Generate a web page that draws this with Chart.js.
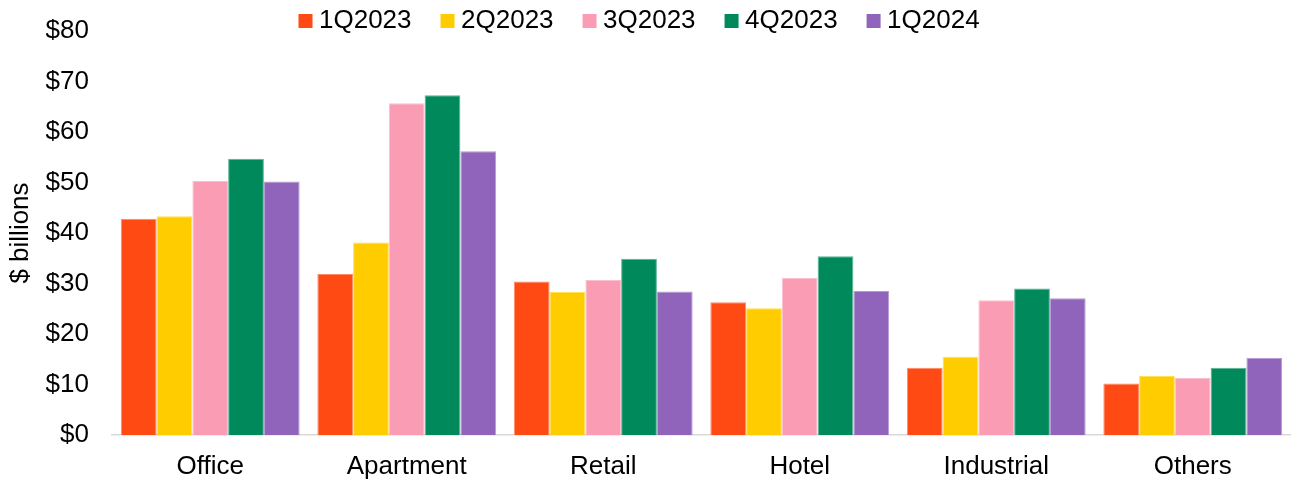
<!DOCTYPE html>
<html>
<head>
<meta charset="utf-8">
<script src="https://cdn.jsdelivr.net/npm/chart.js@4/dist/chart.umd.min.js"></script>
<style>
  html, body { margin: 0; padding: 0; background: #ffffff; }
  #wrap { width: 1291px; height: 481px; position: relative; }
</style>
</head>
<body>
<div id="wrap"><canvas id="chart"></canvas></div>
<script>
// Property sector categories
const categories = ['Office', 'Apartment', 'Retail', 'Hotel', 'Industrial', 'Others'];

// Quarterly values, $ billions
const q1_2023 = [42.8, 31.9, 30.4, 26.3, 13.3, 10.2];
const q2_2023 = [43.3, 38.1, 28.3, 25.1, 15.5, 11.7];
const q3_2023 = [50.3, 65.7, 30.7, 31.1, 26.7, 11.3];
const q4_2023 = [54.7, 67.3, 34.9, 35.4, 29.0, 13.3];
const q1_2024 = [50.2, 56.2, 28.4, 28.5, 27.1, 15.3];

const seriesNames = ['1Q2023', '2Q2023', '3Q2023', '4Q2023', '1Q2024'];
const seriesValues = [q1_2023, q2_2023, q3_2023, q4_2023, q1_2024];
const seriesColors = ['#FF4A14', '#FFCC00', '#FB9CB5', '#008A5C', '#9064BA'];
const seriesEdges = ['#FF8966', '#FFDE59', '#FCBFCF', '#59B395', '#B79AD2'];

// Y axis ticks
const yMin = 0;
const yMax = 80;
const yStep = 10;

const FONT = "'Liberation Sans', Arial, sans-serif";
const FONT_SIZE = 26;
const LEGEND_GAP = 35.5;

// Place the legend row: first marker near x=305, row centred at y=21
const legendPlace = {
  id: 'legendPlace',
  afterLayout(chart) {
    const lg = chart.legend;
    if (!lg) return;
    lg.left = 305 - LEGEND_GAP;
    lg.top = 21 - FONT_SIZE / 2 - LEGEND_GAP;
    lg.bottom = 60;
  }
};

new Chart(document.getElementById('chart'), {
  type: 'bar',
  data: {
    labels: categories,
    datasets: seriesNames.map((name, i) => ({
      label: name,
      data: seriesValues[i],
      backgroundColor: seriesColors[i],
      borderColor: seriesEdges[i],
      borderWidth: 1,
      barPercentage: 1.0,
      categoryPercentage: 0.91
    }))
  },
  options: {
    responsive: true,
    maintainAspectRatio: false,
    animation: false,
    layout: { padding: 0 },
    plugins: {
      legend: {
        position: 'top',
        align: 'start',
        maxHeight: 31,
        labels: {
          usePointStyle: true,
          pointStyle: 'rect',
          boxWidth: 1,
          boxHeight: 14,
          padding: LEGEND_GAP,
          color: '#000000',
          font: { family: FONT, size: FONT_SIZE },
          generateLabels(chart) {
            return chart.data.datasets.map((ds, i) => ({
              text: ds.label,
              fillStyle: ds.backgroundColor,
              strokeStyle: ds.backgroundColor,
              lineWidth: 0,
              pointStyle: 'rect',
              hidden: !chart.isDatasetVisible(i),
              datasetIndex: i,
              fontColor: '#000000'
            }));
          }
        }
      },
      tooltip: { enabled: false }
    },
    scales: {
      x: {
        grid: { display: false, drawTicks: false },
        border: { display: true, color: '#d9d9d9', width: 1.5 },
        ticks: {
          color: '#000000',
          padding: 16,
          font: { family: FONT, size: FONT_SIZE }
        },
        afterFit(scale) {
          scale.height = 46;
          scale.paddingLeft = 0;
          scale.paddingRight = 0;
        }
      },
      y: {
        min: yMin,
        max: yMax,
        grid: { display: false, drawTicks: false },
        border: { display: false },
        ticks: {
          stepSize: yStep,
          color: '#000000',
          padding: 23,
          font: { family: FONT, size: FONT_SIZE },
          callback: v => '$' + v
        },
        title: {
          display: true,
          text: '$ billions',
          color: '#000000',
          font: { family: FONT, size: FONT_SIZE },
          padding: { top: 5, bottom: 0 }
        },
        afterFit(scale) {
          scale.width = 112;
          scale.paddingTop = 0;
          scale.paddingBottom = 0;
        }
      }
    }
  },
  plugins: [legendPlace]
});
</script>
</body>
</html>
